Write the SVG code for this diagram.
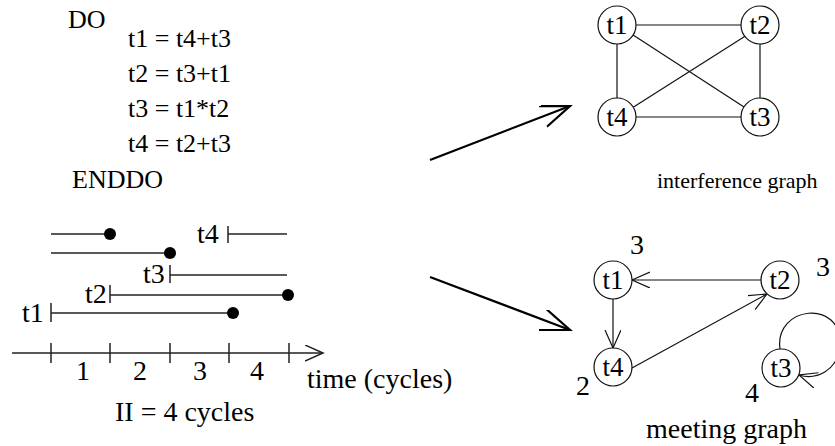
<svg xmlns="http://www.w3.org/2000/svg" width="835" height="446" viewBox="0 0 835 446" font-family="'Liberation Serif', 'Times New Roman', serif">
<style>
text{font-family:'Liberation Serif','Times New Roman',serif;fill:#000}
.code{font-size:26px}
.tl{font-size:28px}
.nl{font-size:27px}
.cap{font-size:22px}
.edge{stroke:#111;stroke-width:1.2;fill:none}
.node{stroke:#111;stroke-width:1.2;fill:#fff}
.bar{stroke:#222;stroke-width:1.5;fill:none}
.big{stroke:#000;stroke-width:2.2;fill:none}
</style>
<defs>
<marker id="open" markerUnits="userSpaceOnUse" markerWidth="24" markerHeight="20" refX="18" refY="8" orient="auto">
<path d="M0,0 L18,8 L0,16" fill="none" stroke="#111" stroke-width="1.2"/>
</marker>
<marker id="bigopen" markerUnits="userSpaceOnUse" markerWidth="34" markerHeight="26" refX="29" refY="11" orient="auto">
<path d="M0,0 L29,11 L0,22" fill="none" stroke="#000" stroke-width="2.2"/>
</marker>
<marker id="axis" markerUnits="userSpaceOnUse" markerWidth="24" markerHeight="18" refX="18" refY="8" orient="auto">
<path d="M0,0 L18,8 L0,16" fill="none" stroke="#222" stroke-width="1.5"/>
</marker>
</defs>

<g id="code">
<text class="code" x="68" y="28">DO</text>
<text class="code" x="128" y="47">t1 = t4+t3</text>
<text class="code" x="128" y="82">t2 = t3+t1</text>
<text class="code" x="128" y="117">t3 = t1*t2</text>
<text class="code" x="128" y="152">t4 = t2+t3</text>
<text class="code" x="72" y="188">ENDDO</text>
</g>

<g id="timeline">
<line class="bar" x1="51" y1="234" x2="110" y2="234"/>
<circle cx="110" cy="234" r="6"/>
<line class="bar" x1="51" y1="253" x2="170" y2="253"/>
<circle cx="170" cy="253" r="6"/>
<text class="tl" x="197" y="243">t4</text>
<line class="bar" x1="228" y1="226" x2="228" y2="243"/>
<line class="bar" x1="228" y1="234" x2="287" y2="234"/>
<text class="tl" x="143" y="283">t3</text>
<line class="bar" x1="170" y1="265" x2="170" y2="283"/>
<line class="bar" x1="170" y1="275" x2="287" y2="275"/>
<text class="tl" x="85" y="303">t2</text>
<line class="bar" x1="110" y1="285" x2="110" y2="303"/>
<line class="bar" x1="110" y1="295" x2="288" y2="295"/>
<circle cx="288" cy="295" r="6"/>
<text class="tl" x="22" y="322">t1</text>
<line class="bar" x1="51" y1="303" x2="51" y2="322"/>
<line class="bar" x1="51" y1="313" x2="233" y2="313"/>
<circle cx="233" cy="313" r="6"/>
<line class="bar" x1="12" y1="353" x2="323" y2="353" marker-end="url(#axis)"/>
<line class="bar" x1="51" y1="343" x2="51" y2="363"/>
<line class="bar" x1="110" y1="343" x2="110" y2="363"/>
<line class="bar" x1="170" y1="343" x2="170" y2="363"/>
<line class="bar" x1="229" y1="343" x2="229" y2="363"/>
<line class="bar" x1="289" y1="343" x2="289" y2="363"/>
<text class="tl" x="83" y="380" text-anchor="middle">1</text>
<text class="tl" x="140" y="380" text-anchor="middle">2</text>
<text class="tl" x="200" y="380" text-anchor="middle">3</text>
<text class="tl" x="257" y="380" text-anchor="middle">4</text>
<text class="tl" x="307" y="388">time (cycles)</text>
<text class="tl" x="115" y="421">II = 4 cycles</text>
</g>

<g id="connectors">
<line class="big" x1="430" y1="160" x2="570" y2="106" marker-end="url(#bigopen)"/>
<line class="big" x1="430" y1="277" x2="570" y2="330" marker-end="url(#bigopen)"/>
<line class="edge" x1="636" y1="25" x2="741" y2="25"/>
<line class="edge" x1="636" y1="117" x2="741" y2="117"/>
<line class="edge" x1="617" y1="44" x2="617" y2="98"/>
<line class="edge" x1="760" y1="44" x2="760" y2="98"/>
<line class="edge" x1="630" y1="33" x2="744" y2="107"/>
<line class="edge" x1="747" y1="35" x2="632" y2="108"/>
<line class="edge" x1="761" y1="280" x2="632" y2="280" marker-end="url(#open)"/>
<line class="edge" x1="613" y1="299" x2="613" y2="348" marker-end="url(#open)"/>
<line class="edge" x1="632" y1="368" x2="767" y2="294" marker-end="url(#open)"/>
<path class="edge" d="M780,349 C774,306 842,298 840,345 C838,372 815,380 799,375" marker-end="url(#open)"/>
</g>

<g id="ig-t1"><circle class="node" cx="617" cy="25" r="19"/><text class="nl" x="617" y="34" text-anchor="middle">t1</text></g>
<g id="ig-t2"><circle class="node" cx="760" cy="25" r="19"/><text class="nl" x="760" y="34" text-anchor="middle">t2</text></g>
<g id="ig-t4"><circle class="node" cx="617" cy="117" r="19"/><text class="nl" x="617" y="126" text-anchor="middle">t4</text></g>
<g id="ig-t3"><circle class="node" cx="760" cy="117" r="19"/><text class="nl" x="760" y="126" text-anchor="middle">t3</text></g>
<text class="cap" x="657" y="188">interference graph</text>

<g id="mg-t1"><circle class="node" cx="613" cy="280" r="19"/><text class="nl" x="613" y="289" text-anchor="middle">t1</text><text class="tl" x="637" y="254" text-anchor="middle">3</text></g>
<g id="mg-t2"><circle class="node" cx="780" cy="280" r="19"/><text class="nl" x="780" y="289" text-anchor="middle">t2</text><text class="tl" x="823" y="276" text-anchor="middle">3</text></g>
<g id="mg-t4"><circle class="node" cx="613" cy="367" r="19"/><text class="nl" x="613" y="376" text-anchor="middle">t4</text><text class="tl" x="583" y="395" text-anchor="middle">2</text></g>
<g id="mg-t3"><circle class="node" cx="781" cy="368" r="19"/><text class="nl" x="781" y="377" text-anchor="middle">t3</text><text class="tl" x="752" y="402" text-anchor="middle">4</text></g>
<text class="tl" x="646" y="438">meeting graph</text>
</svg>
